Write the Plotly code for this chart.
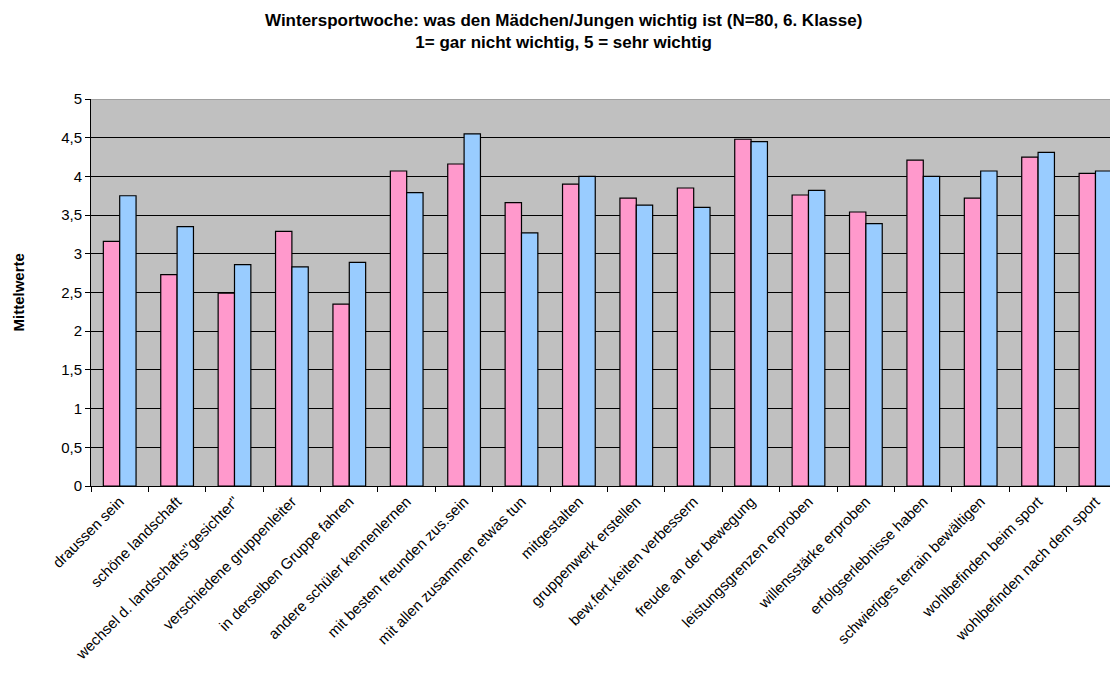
import plotly.graph_objects as go

categories = [
    "draussen sein", "schöne landschaft", "wechsel d. landschafts\"gesichter\"",
    "verschiedene gruppenleiter", "in derselben Gruppe fahren", "andere schüler kennenlernen",
    "mit besten freunden zus.sein", "mit allen zusammen etwas tun", "mitgestalten",
    "gruppenwerk erstellen", "bew.fert.keiten verbessern", "freude an der bewegung",
    "leistungsgrenzen erproben", "willensstärke erproben", "erfolgserlebnisse haben",
    "schwieriges terrain bewältigen", "wohlbefinden beim sport", "wohlbefinden nach dem sport",
]
maedchen = [3.16, 2.73, 2.49, 3.29, 2.35, 4.07, 4.16, 3.66, 3.90,
            3.72, 3.85, 4.48, 3.76, 3.54, 4.21, 3.72, 4.25, 4.04]
jungen = [3.75, 3.35, 2.86, 2.83, 2.89, 3.79, 4.55, 3.27, 4.00,
          3.63, 3.60, 4.45, 3.82, 3.39, 4.00, 4.07, 4.31, 4.07]

fig = go.Figure()
fig.add_trace(go.Bar(x=categories, y=maedchen, name="Mädchen",
                     marker=dict(color="#FF99CC", line=dict(color="black", width=1.2))))
fig.add_trace(go.Bar(x=categories, y=jungen, name="Jungen",
                     marker=dict(color="#99CCFF", line=dict(color="black", width=1.2))))

font = "Arial, Liberation Sans, sans-serif"
W, H = 1110, 669
L, R, T, B = 83, 1, 91, 191
fig.update_layout(
    width=W, height=H,
    margin=dict(l=L, r=R, t=T, b=B),
    paper_bgcolor="white", plot_bgcolor="#C0C0C0",
    barmode="group", bargap=0.43, bargroupgap=0,
    showlegend=False,
    separators=",.",
    font=dict(family=font, size=15, color="black"),
    xaxis=dict(
        range=[-0.5, 17.375],
        tickangle=-45, tickson="boundaries", ticks="outside", ticklen=5,
        tickcolor="black", showline=True, linecolor="black", linewidth=1,
        showgrid=False, tickfont=dict(family=font, size=15), fixedrange=True,
    ),
    yaxis=dict(
        range=[0, 5], dtick=0.5, tick0=0, ticks="outside", ticklen=5,
        tickcolor="black", showline=True, linecolor="black", linewidth=1,
        showgrid=True, gridcolor="black", gridwidth=1, zeroline=False,
        tickfont=dict(family=font, size=15),
    ),
)
plot_h = H - T - B
plot_w = W - L - R
fig.add_annotation(
    text="<b>Wintersportwoche: was den Mädchen/Jungen wichtig ist (N=80, 6. Klasse)<br>1= gar nicht wichtig, 5 = sehr wichtig</b>",
    xref="paper", yref="paper", x=(W / 2 - L) / plot_w, y=1 + (T - 23) / plot_h,
    xanchor="center", yanchor="middle", showarrow=False,
    font=dict(family=font, size=17, color="black"),
)
fig.add_annotation(
    text="<b>Mittelwerte</b>", textangle=-90,
    xref="paper", yref="paper", x=(10 - L) / plot_w, y=0.5,
    xanchor="center", yanchor="middle", showarrow=False,
    font=dict(family=font, size=15, color="black"),
)
fig.add_shape(type="line", xref="paper", yref="y", x0=0, x1=1, y0=5, y1=5,
              line=dict(color="#808080", width=1))

fig.write_html("out.html")
